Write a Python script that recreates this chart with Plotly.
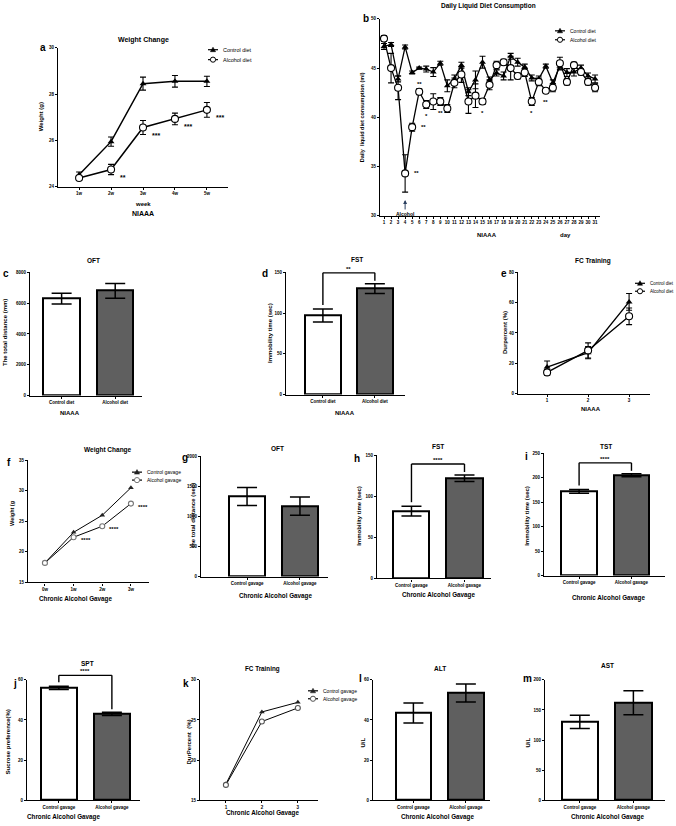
import plotly.graph_objects as go

W, H = 676, 826
FONT = "Liberation Sans, Arial, sans-serif"
GREY = "#5f5f5f"

# ---------------- data ----------------
# a  Weight change (NIAAA)
weeks_a = ["1w", "2w", "3w", "4w", "5w"]
ctrl_a = [24.52, 25.95, 28.45, 28.55, 28.55]
ctrl_a_err = [0.12, 0.2, 0.28, 0.25, 0.22]
alc_a = [24.38, 24.75, 26.56, 26.93, 27.32]
alc_a_err = [0.1, 0.22, 0.3, 0.25, 0.32]
stars_a = ["", "**", "***", "***", "***"]

# b  Daily liquid diet consumption
days_b = list(range(1, 32))
ctrl_b = [47.2, 47.4, 43.9, 47.15, 44.55, 45.0, 44.9, 44.6, 45.5, 43.2,
          43.9, 45.3, 42.6, 43.8, 45.6, 43.8, 44.5, 44.2, 46.2, 45.6,
          45.1, 44.0, 43.9, 45.2, 43.5, 45.2, 44.55, 44.6, 45.0, 44.2, 43.9]
ctrl_b_err = [0.3, 0.2, 0.3, 0.2, 0.15, 0.1, 0.3, 0.45, 0.2, 0.6,
              0.4, 0.3, 0.4, 0.9, 0.6, 0.3, 0.3, 0.4, 0.3, 0.4,
              0.3, 0.3, 0.3, 0.2, 0.3, 0.4, 0.4, 0.4, 0.3, 0.3, 0.4]
alc_b = [48.0, 45.0, 43.0, 34.3, 39.0, 42.6, 41.3, 41.6, 41.6, 40.9,
         43.5, 44.35, 41.6, 42.2, 41.6, 43.3, 45.3, 45.6, 45.0, 44.2,
         44.55, 41.6, 43.6, 42.7, 43.0, 45.5, 43.6, 45.3, 44.6, 43.6, 43.0]
alc_b_err = [0.3, 1.5, 1.2, 1.9, 0.4, 0.3, 0.4, 0.8, 0.4, 0.4,
             0.5, 0.8, 1.2, 1.2, 0.3, 0.5, 0.4, 0.3, 1.2, 0.3,
             0.4, 0.4, 0.4, 0.2, 0.4, 0.6, 0.3, 0.3, 0.3, 0.3, 0.4]
# (day, label, "right"/"above"/"below")
stars_b = [(4, "**", "right"), (5, "**", "right"), (6, "**", "above"),
           (7, "*", "below"), (9, "**", "below"), (15, "*", "below"),
           (22, "*", "below"), (24, "**", "below")]

diet_groups = ["Control diet", "Alcohol diet"]
gavage_groups = ["Control gavage", "Alcohol gavage"]

# c  OFT (NIAAA)
oft_c = [6300, 6800]
oft_c_err = [350, 480]
# d  FST (NIAAA)
fst_d = [97, 130]
fst_d_err = [8, 6]
# e  FC training (NIAAA)
sessions = [1, 2, 3]
ctrl_e = [17.5, 27, 60.5]
ctrl_e_err = [4, 4, 5.5]
alc_e = [14, 28.5, 51]
alc_e_err = [2, 5, 5.5]

# f  Weight change (gavage)
weeks_f = ["0w", "1w", "2w", "3w"]
ctrl_f = [18.2, 23.2, 26.0, 30.5]
alc_f = [18.2, 22.4, 24.2, 27.9]
stars_f = ["", "****", "****", "****"]
# g  OFT
oft_g = [1330, 1170]
oft_g_err = [150, 150]
# h  FST
fst_h = [82, 122]
fst_h_err = [6, 4]
# i  TST
tst_i = [172, 205]
tst_i_err = [4, 3]
# j  SPT
spt_j = [56, 43]
spt_j_err = [0.8, 0.8]
# k  FC training (gavage)
ctrl_k = [17.0, 26.0, 27.2]
alc_k = [16.9, 24.8, 26.5]
# l  ALT, m  AST
alt_l = [43.5, 53.5]
alt_l_err = [5, 4.5]
ast_m = [130, 162]
ast_m_err = [11, 20]

# ---------------- layout of the panels (pixels) ----------------
PANELS = {
    "a": dict(box=(58, 228, 46, 186), xr=[-0.66, 4.66], yr=[24, 30], dy=2, xtype="category"),
    "b": dict(box=(380, 600, 17, 215), xr=[0.43, 31.7], yr=[30, 50], dy=5, xtype="linear"),
    "c": dict(box=(30, 142, 272, 396), xr=[-0.59, 1.5], yr=[0, 8000], dy=2000, xtype="category"),
    "d": dict(box=(286, 405, 272, 395), xr=[-0.71, 1.58], yr=[0, 150], dy=50, xtype="category"),
    "e": dict(box=(518, 650, 272, 394), xr=[0.29, 3.51], yr=[0, 80], dy=20, xtype="linear"),
    "f": dict(box=(28, 149, 461, 584), xr=[-0.59, 3.63], yr=[15, 35], dy=5, xtype="category"),
    "g": dict(box=(201, 328, 457, 578), xr=[-0.87, 1.53], yr=[0, 2000], dy=500, xtype="category"),
    "h": dict(box=(377, 491, 456, 580), xr=[-0.65, 1.5], yr=[0, 150], dy=50, xtype="category"),
    "i": dict(box=(544, 665, 454, 577), xr=[-0.67, 1.64], yr=[0, 250], dy=50, xtype="category"),
    "j": dict(box=(27, 140, 682, 803), xr=[-0.6, 1.53], yr=[0, 60], dy=20, xtype="category"),
    "k": dict(box=(200, 318, 682, 803), xr=[0.28, 3.56], yr=[15, 30], dy=5, xtype="linear"),
    "l": dict(box=(373, 490, 682, 803), xr=[-0.77, 1.46], yr=[0, 60], dy=20, xtype="category"),
    "m": dict(box=(545, 665, 682, 803), xr=[-0.65, 1.59], yr=[0, 200], dy=50, xtype="category"),
}

fig = go.Figure()
shapes, notes = [], []


def ax_names(key):
    n = list(PANELS).index(key) + 1
    sfx = "" if n == 1 else str(n)
    return "x" + sfx, "y" + sfx, sfx


def paper(xp, yp):
    return xp / W, 1 - yp / H


def ypix(key, v):
    x0, x1, top, bottom = PANELS[key]["box"]
    y0, y1 = PANELS[key]["yr"]
    return bottom - (v - y0) / (y1 - y0) * (bottom - top)


def xpix(key, i):
    x0, x1, top, bottom = PANELS[key]["box"]
    r0, r1 = PANELS[key]["xr"]
    return x0 + (i - r0) / (r1 - r0) * (x1 - x0)


def text(xp, yp, s, size=6, bold=True, angle=0, xanchor="center"):
    px, py = paper(xp, yp)
    notes.append(dict(x=px, y=py, xref="paper", yref="paper", text=f"<b>{s}</b>" if bold else s,
                      showarrow=False, textangle=angle, xanchor=xanchor, yanchor="middle",
                      font=dict(size=size, family=FONT, color="black")))


def star(xref, yref, x, y, s, size=6, xanchor="left", xshift=0, yshift=0):
    notes.append(dict(x=x, y=y, xref=xref, yref=yref, text=f"<b>{s}</b>", showarrow=False,
                      xanchor=xanchor, xshift=xshift, yshift=yshift,
                      font=dict(size=size, family=FONT, color="black")))


# axes
for key, p in PANELS.items():
    xn, yn, sfx = ax_names(key)
    x0, x1, top, bottom = p["box"]
    common = dict(showline=True, linecolor="black", linewidth=1.4, ticks="outside",
                  ticklen=2, tickwidth=1, tickcolor="black", showgrid=False, zeroline=False,
                  tickfont=dict(size=4.5, family=FONT, color="black", weight="bold"))
    xa = dict(domain=[x0 / W, x1 / W], anchor=yn, range=p["xr"], type=p["xtype"],
              tickangle=0, **common)
    if p["xtype"] == "linear":
        xa["dtick"] = 1
    ya = dict(domain=[1 - bottom / H, 1 - top / H], anchor=xn, range=p["yr"], dtick=p["dy"],
              tickformat="d", **common)
    fig.update_layout(**{"xaxis" + sfx: xa, "yaxis" + sfx: ya})


def add_bars(key, cats, vals, errs):
    xn, yn, _ = ax_names(key)
    fig.add_trace(go.Bar(
        x=cats, y=vals, width=0.68, xaxis=xn, yaxis=yn, showlegend=False,
        marker=dict(color=["white", GREY], line=dict(color="black", width=2)),
        error_y=dict(type="data", array=errs, color="black", thickness=1.5, width=10),
    ))


def add_line(key, xs, ys, errs, ctrl, msize=6, lwidth=1.5, mcolor="black"):
    xn, yn, _ = ax_names(key)
    if ctrl:
        marker = dict(symbol="triangle-up", size=msize, color=mcolor)
    else:
        marker = dict(symbol="circle", size=msize, color="white", line=dict(color=mcolor, width=1.1))
    err = None
    if errs is not None:
        err = dict(type="data", array=errs, color="black", thickness=1.1, width=3)
    fig.add_trace(go.Scatter(
        x=xs, y=ys, mode="lines+markers", xaxis=xn, yaxis=yn, showlegend=False,
        line=dict(color="black", width=lwidth), marker=marker, error_y=err,
    ))


def bracket(key, vals, errs, label):
    tops = [ypix(key, v + e) for v, e in zip(vals, errs)]
    yb = min(tops) - 11
    xl, xr = xpix(key, 0), xpix(key, 1)
    for (xa, ya_), (xb, yb_) in [((xl, tops[0] - 4), (xl, yb)), ((xl, yb), (xr, yb)),
                                 ((xr, yb), (xr, tops[1] - 3))]:
        p0, p1 = paper(xa, ya_), paper(xb, yb_)
        shapes.append(dict(type="line", xref="paper", yref="paper", x0=p0[0], y0=p0[1],
                           x1=p1[0], y1=p1[1], line=dict(color="black", width=1.4)))
    text((xl + xr) / 2, yb - 4, label, size=6)


def legend_entry(xp, yp, ctrl, label, size=5.5, mcolor="black"):
    a0, b0 = paper(xp - 5, yp)
    a1, b1 = paper(xp + 5, yp)
    shapes.append(dict(type="line", xref="paper", yref="paper", x0=a0, y0=b0, x1=a1, y1=b1,
                       line=dict(color="black", width=1.2)))
    if ctrl:
        pts = [paper(xp - 2.6, yp + 2), paper(xp + 2.6, yp + 2), paper(xp, yp - 2.6)]
        path = "M {} {} L {} {} L {} {} Z".format(*[c for pt in pts for c in pt])
        shapes.append(dict(type="path", xref="paper", yref="paper", path=path,
                           fillcolor=mcolor, line=dict(color=mcolor, width=0.5)))
    else:
        c0, d0 = paper(xp - 2.6, yp + 2.6)
        c1, d1 = paper(xp + 2.6, yp - 2.6)
        shapes.append(dict(type="circle", xref="paper", yref="paper", x0=c0, y0=d0, x1=c1, y1=d1,
                           fillcolor="white", line=dict(color=mcolor, width=1)))
    text(xp + 8, yp, label, size=size, bold=False, xanchor="left")


# ---- a ----
add_line("a", weeks_a, ctrl_a, ctrl_a_err, True)
add_line("a", weeks_a, alc_a, alc_a_err, False, msize=7)
for w, v, s in zip(weeks_a, alc_a, stars_a):
    if s:
        star("x", "y", w, v, s, size=7, xshift=7, yshift=-8)
text(143, 38, "Weight Change", 7)
text(43, 46, "a", 10)
text(41, 116, "Weight (g)", 6, angle=-90)
text(143, 203, "week", 6)
text(143, 213, "NIAAA", 7)
legend_entry(213, 48, True, "Control diet")
legend_entry(213, 58, False, "Alcohol diet")

# ---- b ----
add_line("b", days_b, ctrl_b, ctrl_b_err, True, msize=6, lwidth=1.3)
add_line("b", days_b, alc_b, alc_b_err, False, msize=7, lwidth=1.3)
xb, yb, _ = ax_names("b")
for d, s, where in stars_b:
    v = alc_b[d - 1]
    dx, dy = {"right": (7, 0), "above": (0, 8), "below": (0, -11)}[where]
    star(xb, yb, d, v, s, xanchor="left" if where == "right" else "center", xshift=dx, yshift=dy)
notes.append(dict(x=4, y=31.6, xref=xb, yref=yb, text="<b>Alcohol</b>", showarrow=True,
                  arrowhead=2, arrowsize=0.8, arrowwidth=1, ax=0, ay=14,
                  font=dict(size=5, family=FONT, color="black")))
text(488, 4, "Daily Liquid Diet Consumption", 6.5)
text(366, 17, "b", 10)
text(362, 116, "Daily  liquid diet consumption (ml)", 5.5, angle=-90)
text(487, 234, "NIAAA", 6)
text(565, 234, "day", 6)
legend_entry(560, 29, True, "Control diet", size=5)
legend_entry(560, 38, False, "Alcohol diet", size=5)

# ---- c ----
add_bars("c", diet_groups, oft_c, oft_c_err)
text(94, 260, "OFT", 6.5)
text(6, 273, "c", 10)
text(5, 333, "The total distance (mm)", 6, angle=-90)
text(70, 414, "NIAAA", 6)

# ---- d ----
add_bars("d", diet_groups, fst_d, fst_d_err)
bracket("d", fst_d, fst_d_err, "**")
text(357, 259, "FST", 6.5)
text(265, 273, "d", 10)
text(270, 333, "Immobility time (sec)", 6, angle=-90)
text(345, 414, "NIAAA", 6)

# ---- e ----
add_line("e", sessions, ctrl_e, ctrl_e_err, True, msize=6, lwidth=1.4)
add_line("e", sessions, alc_e, alc_e_err, False, msize=7, lwidth=1.4)
text(593, 261, "FC Training", 6.5)
text(504, 273, "e", 10)
text(505, 333, "Durpercent (%)", 6, angle=-90)
text(591, 409, "NIAAA", 6)
legend_entry(640, 283, True, "Control diet", size=4.5)
legend_entry(640, 291, False, "Alcohol diet", size=4.5)

# ---- f ----
add_line("f", weeks_f, ctrl_f, None, True, msize=5, lwidth=1, mcolor="#222222")
add_line("f", weeks_f, alc_f, None, False, msize=5, lwidth=1, mcolor="#777777")
xf, yf, _ = ax_names("f")
for w, v, s in zip(weeks_f, alc_f, stars_f):
    if s:
        star(xf, yf, w, v, s, size=6, xshift=5, yshift=-3)
text(108, 451, "Weight Change", 6.5)
text(9, 463, "f", 10)
text(12, 515, "Weight (g", 5.5, angle=-90)
text(75, 601, "Chronic Alcohol Gavage", 6.3)
legend_entry(137, 473, True, "Control gavage", size=5, mcolor="#222222")
legend_entry(137, 481, False, "Alcohol gavage", size=5, mcolor="#777777")

# ---- g ----
add_bars("g", gavage_groups, oft_g, oft_g_err)
text(277, 449, "OFT", 6.5)
text(185, 458, "g", 10)
text(193, 517, "the total distance (sec)", 6, angle=-90)
text(275, 598, "Chronic Alcohol Gavage", 6.3)

# ---- h ----
add_bars("h", gavage_groups, fst_h, fst_h_err)
bracket("h", fst_h, fst_h_err, "****")
text(438, 447, "FST", 6.5)
text(357, 459, "h", 10)
text(359, 517, "Immobility time (sec)", 6, angle=-90)
text(438, 597, "Chronic Alcohol Gavage", 6.3)

# ---- i ----
add_bars("i", gavage_groups, tst_i, tst_i_err)
bracket("i", tst_i, tst_i_err, "****")
text(606, 447, "TST", 6.5)
text(526, 457, "i", 10)
text(527, 517, "Immobility time (sec)", 6, angle=-90)
text(608, 600, "Chronic Alcohol Gavage", 6.3)

# ---- j ----
add_bars("j", gavage_groups, spt_j, spt_j_err)
bracket("j", spt_j, spt_j_err, "****")
text(87, 666, "SPT", 6.5)
text(15, 686, "j", 10)
text(8, 745, "Sucrose preference(%)", 6, angle=-90)
text(63, 820, "Chronic Alcohol Gavage", 6.3)

# ---- k ----
add_line("k", sessions, ctrl_k, None, True, msize=5, lwidth=1, mcolor="#222222")
add_line("k", sessions, alc_k, None, False, msize=5, lwidth=1, mcolor="#555555")
text(262, 671, "FC Training", 6.3)
text(186, 686, "k", 10)
text(189, 745, "DurPercent  (%)", 6, angle=-90)
text(262, 816, "Chronic Alcohol Gavage", 6.3)
legend_entry(313, 693, True, "Control gavage", size=5, mcolor="#222222")
legend_entry(313, 701, False, "Alcohol gavage", size=5, mcolor="#555555")

# ---- l ----
add_bars("l", gavage_groups, alt_l, alt_l_err)
text(440, 671, "ALT", 6.5)
text(360, 681, "l", 10)
text(363, 745, "U/L", 6, angle=-90)
text(437, 820, "Chronic Alcohol Gavage", 6.3)

# ---- m ----
add_bars("m", gavage_groups, ast_m, ast_m_err)
text(607, 668, "AST", 6.5)
text(527, 681, "m", 10)
text(528, 745, "U/L", 6, angle=-90)
text(607, 820, "Chronic Alcohol Gavage", 6.3)

fig.update_layout(
    width=W, height=H, margin=dict(l=0, r=0, t=0, b=0),
    paper_bgcolor="white", plot_bgcolor="white",
    font=dict(family=FONT, color="black"),
    shapes=shapes, annotations=notes, showlegend=False, bargap=0,
)

# drop the browser's default 8px body margin so the figure sits at the page corner
fig.write_html("out.html", config={"displayModeBar": False},
               post_script="document.body.style.margin='0';")
